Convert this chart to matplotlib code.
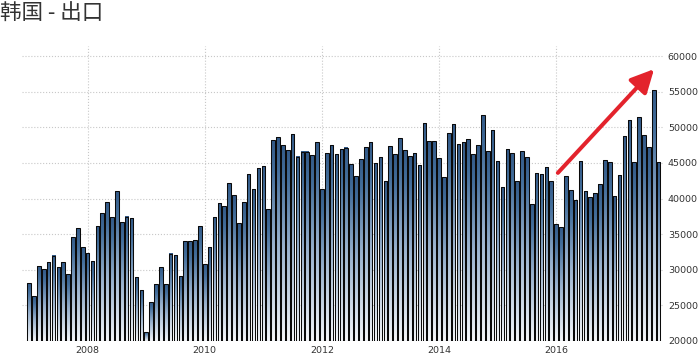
import numpy as np
import matplotlib
matplotlib.use("Agg")
import matplotlib.pyplot as plt
from matplotlib.colors import LinearSegmentedColormap
from matplotlib.patches import FancyArrowPatch

plt.rcParams['font.family'] = ['Noto Sans CJK SC', 'DejaVu Sans']

# monthly exports (Jan 2007 .. Oct 2017)
exp_2007 = [28100, 26300, 30500, 30100, 31050, 32000, 30350, 31050, 29360, 34560, 35800, 33150]
exp_2008 = [32300, 31190, 36100, 37970, 39470, 37370, 41020, 36700, 37450, 37220, 28940, 27120]
exp_2009 = [21220, 25430, 27960, 30350, 27960, 32260, 32030, 29080, 34040, 34040, 34140, 36100]
exp_2010 = [30810, 33200, 37410, 39330, 38950, 42140, 40460, 36570, 39470, 43400, 41300, 44250]
exp_2011 = [44530, 38530, 48180, 48600, 47470, 46770, 49020, 45880, 46580, 46580, 46070, 47900]
exp_2012 = [41300, 46350, 47470, 46210, 46920, 47140, 44810, 43120, 45510, 47190, 47900, 44990]
exp_2013 = [45790, 42460, 47330, 46210, 48460, 46770, 45930, 46350, 44670, 50570, 48040, 48040]
exp_2014 = [45650, 42980, 49160, 50420, 47610, 47900, 48320, 46210, 47470, 51690, 46630, 49580]
exp_2015 = [45230, 41580, 46920, 46350, 42460, 46630, 45790, 39190, 43540, 43400, 44390, 42460]
exp_2016 = [36380, 36000, 43150, 41180, 39780, 45230, 41040, 40180, 40740, 42040, 45370, 45090]
exp_2017 = [40360, 43310, 48780, 51030, 45130, 51450, 48920, 47190, 55240, 45130]

values = np.array(exp_2007 + exp_2008 + exp_2009 + exp_2010 + exp_2011 + exp_2012
                  + exp_2013 + exp_2014 + exp_2015 + exp_2016 + exp_2017)
x = np.arange(len(values))

year_labels = ['2008', '2010', '2012', '2014', '2016']
year_ticks = [12, 36, 60, 84, 108]
y_ticks = [20000, 25000, 30000, 35000, 40000, 45000, 50000, 55000, 60000]

base = 20000
ytop = 61500
bw = 0.74

fig = plt.figure(figsize=(6.99, 3.6), dpi=100)
ax = fig.add_axes([0.0315, 0.0528, 0.917, 0.8208])

# each bar fades from steel blue at the top to near white at the bottom
cmap = LinearSegmentedColormap.from_list(
    'blu', [(0.0, '#f6f8fb'), (0.5, '#96b0cd'), (0.85, '#446f9c'), (1.0, '#335a88')])
grad = np.linspace(0, 1, 128).reshape(-1, 1)

bars = ax.bar(x, values - base, bottom=base, width=bw, facecolor='none',
              edgecolor='#0a0a0a', linewidth=0.75, zorder=3)
for xi, v in zip(x, values):
    ax.imshow(grad, extent=[xi - bw / 2, xi + bw / 2, base, v], origin='lower',
              aspect='auto', cmap=cmap, zorder=2, interpolation='bilinear')

ax.set_xlim(-1.45, 129.9)
ax.set_ylim(base, ytop)

ax.set_xticks(year_ticks)
ax.set_xticklabels(year_labels, family='DejaVu Sans')
ax.set_yticks(y_ticks)
ax.set_yticklabels([str(v) for v in y_ticks], family='DejaVu Sans')
ax.yaxis.tick_right()
ax.tick_params(axis='both', length=0, labelsize=6.8, colors='#333333')
ax.tick_params(axis='y', pad=3.5)
ax.tick_params(axis='x', pad=3.5)

ax.grid(True, color='#c8c8c8', linestyle=':', linewidth=0.8, zorder=0)
ax.set_axisbelow(True)
for s in ax.spines.values():
    s.set_visible(False)

# red arrow
arr = FancyArrowPatch((0.833, 0.562), (0.989, 0.927), transform=ax.transAxes,
                      arrowstyle='-|>,head_length=0.7,head_width=0.35',
                      mutation_scale=20, color='#e3232c', linewidth=2.9,
                      zorder=5, clip_on=False)
ax.add_patch(arr)

fig.text(0.0, 0.962, '韩国 - 出口', fontsize=15.5, color='#333333',
         ha='left', va='center')

fig.savefig('out.png', dpi=100)
